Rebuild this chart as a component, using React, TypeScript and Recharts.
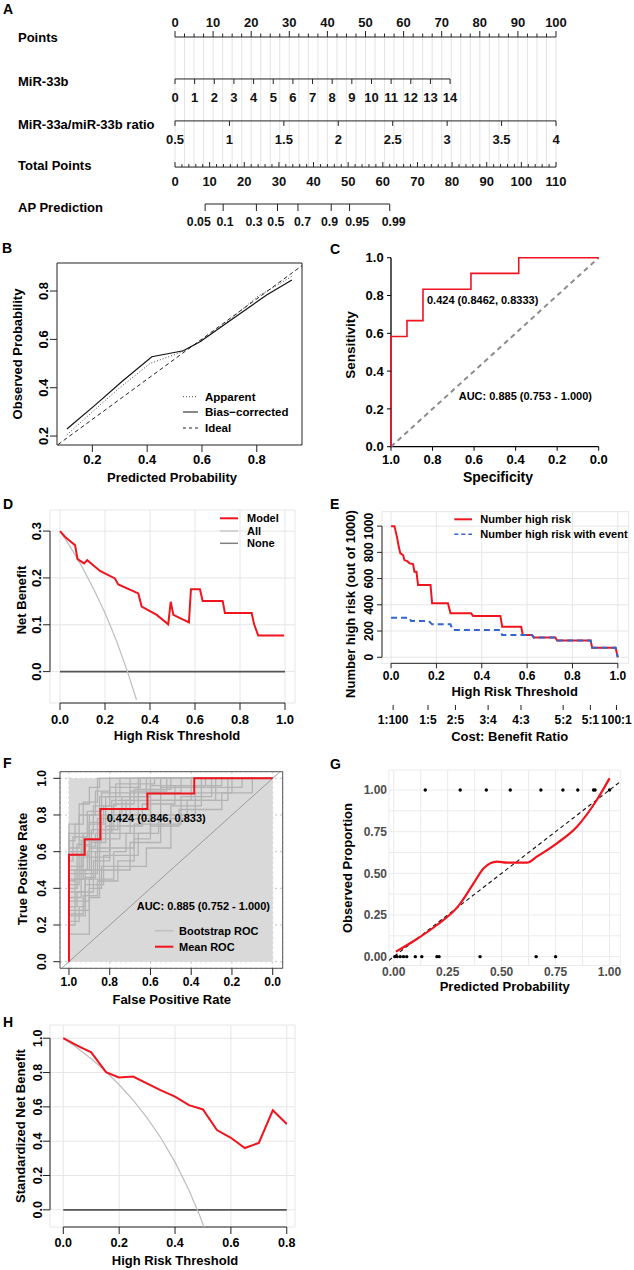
import React from 'react';
import {
  CartesianGrid,
  ComposedChart,
  Line,
  ReferenceArea,
  ReferenceLine,
  Scatter,
  XAxis,
  YAxis,
} from 'recharts';

const FONT = 'Arial, "Liberation Sans", Helvetica, sans-serif';
const RED = '#f0141e';
const BLUE = '#3366cc';
const INK = '#222';

// ---------- A: nomogram ----------
const rowNames = ['Points', 'MiR-33b', 'MiR-33a/miR-33b ratio', 'Total Points', 'AP Prediction'];
const pointsLabels = [0, 10, 20, 30, 40, 50, 60, 70, 80, 90, 100];
const mir33bValues = [0, 1, 2, 3, 4, 5, 6, 7, 8, 9, 10, 11, 12, 13, 14];
const mir33bPointsAt14 = 72.2;
const ratioValues = [0.5, 1, 1.5, 2, 2.5, 3, 3.5, 4];
const totalLabels = [0, 10, 20, 30, 40, 50, 60, 70, 80, 90, 100, 110];
const totalMax = 110;
const apLabels = ['0.05', '0.1', '0.3', '0.5', '0.7', '0.9', '0.95', '0.99'];
const apTotalPoints = [8.7, 13.9, 23.5, 29.6, 35.5, 45.1, 50.4, 62.0];
const apLabelShift = [-6.3, 1.8, -2.4, -1.6, 4.5, -1.7, 7.6, 3.9];

// ---------- B: calibration ----------
const calApparentX = [0.107, 0.2, 0.3, 0.41, 0.52, 0.6, 0.7, 0.8, 0.93];
const calApparentY = [0.205, 0.3, 0.4, 0.5, 0.545, 0.595, 0.68, 0.775, 0.862];
const calBiasX = [0.107, 0.21, 0.307, 0.417, 0.532, 0.593, 0.715, 0.836, 0.928];
const calBiasY = [0.229, 0.328, 0.425, 0.528, 0.553, 0.59, 0.687, 0.784, 0.846];
const calIdealX = [0.075, 0.965];
const calIdealY = [0.165, 0.905];

// ---------- C / F: ROC ----------
const rocSpec = [1, 1, 0.923, 0.923, 0.846, 0.846, 0.615, 0.615, 0.385, 0.385, 0];
const rocSens = [0, 0.583, 0.583, 0.667, 0.667, 0.833, 0.833, 0.917, 0.917, 1, 1];
const bootstrapSteps = [
  [[1, 0.42], [0.95, 0.58], [0.9, 0.75], [0.82, 0.9], [0.7, 1]],
  [[1, 0.25], [0.92, 0.5], [0.85, 0.67], [0.75, 0.83], [0.6, 0.92], [0.45, 1]],
  [[1, 0.6], [0.93, 0.7], [0.88, 0.85], [0.8, 0.95], [0.65, 1]],
  [[1, 0.3], [0.96, 0.38], [0.88, 0.55], [0.8, 0.7], [0.7, 0.8], [0.55, 0.95], [0.35, 1]],
  [[1, 0.5], [0.9, 0.62], [0.86, 0.78], [0.72, 0.88], [0.66, 1]],
  [[1, 0.2], [0.97, 0.33], [0.9, 0.45], [0.78, 0.6], [0.72, 0.7], [0.6, 0.88], [0.22, 1]],
  [[1, 0.7], [0.9, 0.8], [0.85, 0.9], [0.75, 1]],
  [[1, 0.35], [0.94, 0.48], [0.86, 0.62], [0.68, 0.75], [0.45, 0.9], [0.3, 1]],
  [[1, 0.55], [0.98, 0.68], [0.91, 0.82], [0.84, 0.92], [0.55, 1]],
  [[1, 0.28], [0.9, 0.4], [0.84, 0.52], [0.62, 0.62], [0.5, 0.85], [0.35, 0.95], [0.15, 1]],
  [[1, 0.45], [0.93, 0.57], [0.8, 0.78], [0.6, 0.96], [0.4, 1]],
  [[1, 0.62], [0.95, 0.8], [0.87, 0.93], [0.8, 1]],
  [[1, 0.15], [0.9, 0.35], [0.85, 0.5], [0.7, 0.65], [0.55, 0.8], [0.38, 0.92], [0.2, 1]],
  [[1, 0.52], [0.96, 0.64], [0.89, 0.72], [0.78, 0.86], [0.68, 0.94], [0.5, 1]],
  [[1, 0.38], [0.92, 0.46], [0.87, 0.6], [0.8, 0.8], [0.74, 0.9], [0.62, 1]],
  [[1, 0.66], [0.97, 0.75], [0.93, 0.87], [0.86, 1]],
  [[1, 0.22], [0.95, 0.3], [0.92, 0.42], [0.83, 0.58], [0.66, 0.7], [0.56, 0.78], [0.42, 0.88], [0.28, 1]],
  [[1, 0.48], [0.94, 0.66], [0.9, 0.76], [0.83, 0.85], [0.77, 0.97], [0.58, 1]],
  [[1, 0.33], [0.97, 0.45], [0.89, 0.65], [0.82, 0.74], [0.64, 0.86], [0.48, 0.96], [0.33, 1]],
  [[1, 0.58], [0.92, 0.66], [0.84, 0.8], [0.7, 0.9], [0.6, 1]],
  [[1, 0.4], [0.96, 0.52], [0.93, 0.63], [0.87, 0.7], [0.79, 0.88], [0.7, 0.93], [0.52, 1]],
  [[1, 0.26], [0.93, 0.36], [0.86, 0.44], [0.76, 0.55], [0.68, 0.67], [0.6, 0.74], [0.46, 0.83], [0.25, 0.92], [0.1, 1]],
  [[1, 0.75], [0.95, 0.86], [0.9, 0.95], [0.85, 1]],
  [[1, 0.44], [0.97, 0.5], [0.91, 0.6], [0.85, 0.72], [0.76, 0.8], [0.66, 0.88], [0.4, 0.96], [0.25, 1]],
];

// ---------- D: decision curve ----------
const dcaThreshold = [0, 0.022, 0.044, 0.067, 0.078, 0.107, 0.121, 0.178, 0.244, 0.259, 0.348, 0.363, 0.43, 0.481, 0.492, 0.504, 0.573, 0.582, 0.622, 0.634, 0.723, 0.733, 0.852, 0.862, 0.881, 0.996];
const dcaModel = [0.3, 0.288, 0.279, 0.27, 0.24, 0.231, 0.238, 0.215, 0.199, 0.186, 0.167, 0.139, 0.121, 0.101, 0.149, 0.121, 0.105, 0.176, 0.176, 0.151, 0.151, 0.125, 0.125, 0.102, 0.077, 0.077];
const dcaAllX = [0, 0.05, 0.1, 0.15, 0.2, 0.25, 0.3, 0.34];
const dcaAllY = [0.3, 0.263, 0.222, 0.176, 0.125, 0.067, 0, -0.06];
const dcaNoneX = [0, 1];
const dcaNoneY = [0, 0];

// ---------- E: clinical impact ----------
const impactRiskX = [0, 0.015, 0.026, 0.034, 0.041, 0.053, 0.059, 0.071, 0.082, 0.097, 0.103, 0.112, 0.119, 0.174, 0.181, 0.251, 0.262, 0.353, 0.362, 0.482, 0.49, 0.574, 0.581, 0.622, 0.629, 0.725, 0.732, 0.88, 0.887, 0.99, 1.0];
const impactRiskY = [1000, 1000, 918, 842, 792, 779, 741, 733, 716, 711, 652, 652, 551, 551, 411, 411, 335, 335, 315, 315, 233, 233, 170, 170, 150, 150, 127, 127, 73, 73, 0];
const impactEventX = [0, 0.08, 0.088, 0.166, 0.181, 0.262, 0.272, 0.482, 0.49, 0.622, 0.629, 0.725, 0.732, 0.88, 0.887, 0.99, 1.0];
const impactEventY = [302, 302, 276, 276, 251, 251, 208, 208, 170, 170, 150, 150, 127, 127, 73, 73, 0];
const cbThresholds = [0.009, 0.163, 0.284, 0.428, 0.573, 0.759, 0.879, 0.994];
const cbLabels = ['1:100', '1:5', '2:5', '3:4', '4:3', '5:2', '5:1', '100:1'];

// ---------- G: calibration (loess) ----------
const loessX = [0.01, 0.1, 0.2, 0.3, 0.37, 0.417, 0.478, 0.525, 0.617, 0.663, 0.756, 0.849, 0.941, 1.0];
const loessY = [0.03, 0.1, 0.19, 0.305, 0.44, 0.53, 0.57, 0.564, 0.564, 0.6, 0.68, 0.78, 0.94, 1.07];
const eventX = [0.146, 0.308, 0.429, 0.54, 0.682, 0.784, 0.853, 0.926, 0.933, 1.0];
const nonEventX = [0.005, 0.015, 0.03, 0.045, 0.06, 0.1, 0.13, 0.2, 0.21, 0.4, 0.66, 0.75];

// ---------- H: standardized net benefit ----------
const snbX = [0, 0.05, 0.1, 0.153, 0.199, 0.25, 0.346, 0.4, 0.45, 0.5, 0.55, 0.6, 0.65, 0.7, 0.75, 0.8];
const snbModel = [1.0, 0.957, 0.918, 0.802, 0.771, 0.777, 0.699, 0.66, 0.61, 0.585, 0.465, 0.42, 0.36, 0.39, 0.58, 0.5];
const snbAllX = [0, 0.05, 0.1, 0.15, 0.2, 0.25, 0.3, 0.35, 0.4, 0.45, 0.49, 0.51];
const snbAllY = [1.0, 0.943, 0.88, 0.809, 0.729, 0.639, 0.536, 0.417, 0.278, 0.114, -0.04, -0.13];
const snbNoneX = [0, 0.8];
const snbNoneY = [0, 0];

// ---------- helpers ----------
const zip = (xs: number[], ys: number[]) => xs.map((x, i) => ({ x, y: ys[i] }));
const steps = (a: number, b: number, s: number) =>
  Array.from({ length: Math.round((b - a) / s) + 1 }, (_, i) => a + i * s);
const f1 = (v: number) => v.toFixed(1);
const f2 = (v: number) => v.toFixed(2);

const stepPath = (c: number[][]) => {
  const pts = [{ x: 1, y: 0 }];
  let prev = 0;
  c.forEach(([s, t]) => {
    pts.push({ x: s, y: prev });
    pts.push({ x: s, y: t });
    prev = t;
  });
  pts.push({ x: 0, y: prev });
  return pts;
};

const rotTick = (size: number, fmt: (v: number) => string) => (p: any) => (
  <text
    x={p.x}
    y={p.y}
    transform={`rotate(-90 ${p.x} ${p.y})`}
    textAnchor="middle"
    fontSize={size}
    fontWeight={700}
    fill="#000"
  >
    {fmt(p.payload.value)}
  </text>
);

const tickStyle = (size: number, fill = '#000') => ({ fontSize: size, fontWeight: 700, fill });

function Box({ left, top, children }: { left: number; top: number; children: React.ReactNode }) {
  return <div style={{ position: 'absolute', left, top }}>{children}</div>;
}

// ---------- A ----------
const ROW_Y = [0, 1, 2, 3.1, 3.98];

const pointsTicks = steps(0, 100, 2.5).map((v) => ({
  x: v, y: ROW_Y[0], len: v % 10 === 0 ? 6 : 3.5, dir: -1,
  label: pointsLabels.includes(v) ? String(v) : '', dy: -14.5, dx: 0, size: 13,
}));
const mirTicks = mir33bValues.map((v) => ({
  x: (v / 14) * mir33bPointsAt14, y: ROW_Y[1], len: 5, dir: 1, label: String(v), dy: 18.8, dx: 0, size: 13,
}));
const ratioTicks = ratioValues.map((v) => ({
  x: ((v - 0.5) / 3.5) * 100, y: ROW_Y[2], len: 5, dir: 1, label: String(v), dy: 18.5, dx: 0, size: 13,
}));
const totalTicks = steps(0, totalMax, 2).map((v) => ({
  x: (v / totalMax) * 100, y: ROW_Y[3], len: v % 10 === 0 ? 5 : 3, dir: -1,
  label: totalLabels.includes(v) ? String(v) : '', dy: 14, dx: 0, size: 13,
}));
const apTicks = apLabels.map((l, i) => ({
  x: (apTotalPoints[i] / totalMax) * 100, y: ROW_Y[4], len: 7, dir: 1, label: l, dy: 18.2,
  dx: apLabelShift[i], size: 12.3,
}));
const rowSpans = [
  [0, 100],
  [0, mir33bPointsAt14],
  [0, 100],
  [0, 100],
  [apTicks[0].x, apTicks[apTicks.length - 1].x],
];

const NomoTick = (p: any) => {
  const { cx, cy, payload } = p;
  return (
    <g>
      <line x1={cx} y1={cy} x2={cx} y2={cy + payload.dir * payload.len} stroke={INK} strokeWidth={1} />
      {payload.label && (
        <text
          x={cx + payload.dx}
          y={cy + payload.dy}
          textAnchor="middle"
          dominantBaseline="central"
          fontSize={payload.size}
          fontWeight={700}
          fill="#111"
        >
          {payload.label}
        </text>
      )}
    </g>
  );
};

function Nomogram() {
  return (
    <ComposedChart width={634} height={235} margin={{ top: 37, right: 78, bottom: 31, left: 175 }}>
      <XAxis hide type="number" dataKey="x" domain={[0, 100]} />
      <YAxis hide type="number" dataKey="y" domain={[0, 3.98]} reversed />
      {steps(0, 100, 2.5).map((v) => (
        <ReferenceLine
          key={`g${v}`}
          segment={[{ x: v, y: ROW_Y[0] }, { x: v, y: ROW_Y[3] }]}
          stroke="#dcdcdc"
          strokeWidth={0.8}
          ifOverflow="visible"
        />
      ))}
      {rowSpans.map((s, i) => (
        <ReferenceLine
          key={`r${i}`}
          segment={[{ x: s[0], y: ROW_Y[i] }, { x: s[1], y: ROW_Y[i] }]}
          stroke={INK}
          strokeWidth={1}
          ifOverflow="visible"
        />
      ))}
      <Scatter data={pointsTicks} shape={NomoTick} isAnimationActive={false} />
      <Scatter data={mirTicks} shape={NomoTick} isAnimationActive={false} />
      <Scatter data={ratioTicks} shape={NomoTick} isAnimationActive={false} />
      <Scatter data={totalTicks} shape={NomoTick} isAnimationActive={false} />
      <Scatter data={apTicks} shape={NomoTick} isAnimationActive={false} />
    </ComposedChart>
  );
}

// ---------- B ----------
function CalibrationB() {
  return (
    <ComposedChart width={317} height={250} margin={{ top: 23, right: 15, bottom: 0, left: 0 }}>
      <XAxis
        type="number" dataKey="x" domain={[0.071, 0.965]} allowDataOverflow
        ticks={[0.2, 0.4, 0.6, 0.8]} interval={0} tickFormatter={f1}
        height={45} axisLine={false} tickSize={7} tickMargin={3}
        tickLine={{ stroke: INK }} tick={tickStyle(13)}
      />
      <YAxis
        type="number" dataKey="y" domain={[0.163, 0.916]} allowDataOverflow
        ticks={[0.2, 0.4, 0.6, 0.8]} interval={0}
        width={57} axisLine={false} tickSize={7} tickMargin={2}
        tickLine={{ stroke: INK }} tick={rotTick(13, f1)}
      />
      <Line data={zip(calIdealX, calIdealY)} dataKey="y" stroke={INK} strokeWidth={1} strokeDasharray="4 3" dot={false} isAnimationActive={false} />
      <Line data={zip(calApparentX, calApparentY)} dataKey="y" stroke="#444" strokeWidth={1} strokeDasharray="1 2" dot={false} isAnimationActive={false} />
      <Line data={zip(calBiasX, calBiasY)} dataKey="y" stroke="#111" strokeWidth={1.2} dot={false} isAnimationActive={false} />
      <ReferenceArea x1={0.071} x2={0.965} y1={0.163} y2={0.916} fill="none" stroke={INK} strokeWidth={1} ifOverflow="visible" />
    </ComposedChart>
  );
}

// ---------- C ----------
function RocC() {
  return (
    <ComposedChart width={317} height={250} margin={{ top: 17.7, right: 35.3, bottom: 0, left: 0 }}>
      <XAxis
        type="number" dataKey="x" domain={[0, 1]} reversed
        ticks={[0, 0.2, 0.4, 0.6, 0.8, 1]} interval={0} tickFormatter={f1}
        height={43.3} axisLine={false} tickSize={4} tickMargin={3.6}
        tickLine={{ stroke: '#000' }} tick={tickStyle(13)}
      />
      <YAxis
        type="number" dataKey="y" domain={[0, 1]}
        ticks={[0, 0.2, 0.4, 0.6, 0.8, 1]} interval={0} tickFormatter={f1}
        width={74} axisLine={false} tickSize={4} tickMargin={3.3}
        tickLine={{ stroke: '#000' }} tick={tickStyle(13)}
      />
      {/* axis lines drawn first so the ROC curve sits on top of them */}
      <Line data={zip([1, 1, 0], [1, 0, 0])} dataKey="y" stroke="#000" strokeWidth={1.3} dot={false} isAnimationActive={false} />
      <Line data={zip([1, 0], [0, 1])} dataKey="y" stroke="#8c8c8c" strokeWidth={2} strokeDasharray="5 4" dot={false} isAnimationActive={false} />
      <Line data={zip(rocSpec, rocSens)} dataKey="y" stroke={RED} strokeWidth={1.6} dot={false} isAnimationActive={false} />
    </ComposedChart>
  );
}

// ---------- D ----------
function DecisionD() {
  return (
    <ComposedChart width={317} height={250} margin={{ top: 15, right: 22, bottom: 0, left: 0 }}>
      <CartesianGrid stroke="#e6e6e6" strokeWidth={1} />
      <XAxis
        type="number" dataKey="x" domain={[-0.0444, 1.0444]} allowDataOverflow
        ticks={[0, 0.2, 0.4, 0.6, 0.8, 1]} interval={0} tickFormatter={f1}
        height={42} axisLine={false} tickSize={7} tickMargin={4.3}
        tickLine={{ stroke: INK }} tick={tickStyle(13)}
      />
      <YAxis
        type="number" dataKey="y" domain={[-0.067, 0.345]} allowDataOverflow
        ticks={[0, 0.1, 0.2, 0.3]} interval={0}
        width={50} axisLine={false} tickSize={7} tickMargin={2}
        tickLine={{ stroke: INK }} tick={rotTick(13, f1)}
      />
      <ReferenceLine segment={[{ x: 0, y: -0.067 }, { x: 1, y: -0.067 }]} stroke={INK} ifOverflow="visible" />
      <ReferenceLine segment={[{ x: -0.0444, y: 0 }, { x: -0.0444, y: 0.3 }]} stroke={INK} ifOverflow="visible" />
      <Line data={zip(dcaNoneX, dcaNoneY)} dataKey="y" stroke="#555" strokeWidth={1.6} dot={false} isAnimationActive={false} />
      <Line data={zip(dcaAllX, dcaAllY)} dataKey="y" stroke="#bdbdbd" strokeWidth={1.2} dot={false} isAnimationActive={false} />
      <Line data={zip(dcaThreshold, dcaModel)} dataKey="y" stroke={RED} strokeWidth={2} dot={false} isAnimationActive={false} />
    </ComposedChart>
  );
}

// ---------- E ----------
const E_DOMAIN: [number, number] = [-0.04, 1.048];

function ImpactE() {
  return (
    <ComposedChart width={317} height={250} margin={{ top: 16.7, right: 5.3, bottom: 40, left: 0 }}>
      <CartesianGrid stroke="#e6e6e6" strokeWidth={1} />
      <XAxis
        type="number" dataKey="x" domain={E_DOMAIN} allowDataOverflow
        ticks={[0, 0.2, 0.4, 0.6, 0.8, 1]} interval={0} tickFormatter={f1}
        height={41.7} axisLine={false} tickSize={5} tickMargin={3.4}
        tickLine={{ stroke: INK }} tick={tickStyle(12)}
      />
      <YAxis
        type="number" dataKey="y" domain={[-46, 1110]} allowDataOverflow
        ticks={[0, 200, 400, 600, 800, 1000]} interval={0}
        width={65} axisLine={false} tickSize={5} tickMargin={4}
        tickLine={{ stroke: INK }} tick={rotTick(12, (v) => String(v))}
      />
      <ReferenceLine segment={[{ x: 0, y: -46 }, { x: 1, y: -46 }]} stroke={INK} ifOverflow="visible" />
      <ReferenceLine segment={[{ x: -0.04, y: 0 }, { x: -0.04, y: 1000 }]} stroke={INK} ifOverflow="visible" />
      <Line data={zip(impactRiskX, impactRiskY)} dataKey="y" stroke={RED} strokeWidth={2} dot={false} isAnimationActive={false} />
      <Line data={zip(impactEventX, impactEventY)} dataKey="y" stroke={BLUE} strokeWidth={2} strokeDasharray="6 4" dot={false} isAnimationActive={false} />
    </ComposedChart>
  );
}

// second axis of E (cost : benefit ratio), same threshold scale
function CostBenefitAxis() {
  return (
    <ComposedChart width={317} height={45} margin={{ top: 4, right: 5.3, bottom: 0, left: 65 }}>
      <XAxis
        type="number" dataKey="x" domain={E_DOMAIN} allowDataOverflow
        ticks={cbThresholds} interval={0}
        tickFormatter={(v: number) => cbLabels[cbThresholds.indexOf(v)] ?? ''}
        height={40} axisLine={false} tickSize={5} tickMargin={5}
        tickLine={{ stroke: INK }} tick={tickStyle(12)}
      />
      <YAxis hide type="number" dataKey="y" domain={[0, 1]} />
      <ReferenceLine
        segment={[{ x: cbThresholds[0], y: 0 }, { x: cbThresholds[cbThresholds.length - 1], y: 0 }]}
        stroke={INK}
        ifOverflow="visible"
      />
    </ComposedChart>
  );
}

// ---------- F ----------
function BootRocF() {
  return (
    <ComposedChart width={317} height={260} margin={{ top: 21.7, right: 34.3, bottom: 0, left: 0 }}>
      <CartesianGrid stroke="#c4c4c4" strokeDasharray="2 3" />
      <XAxis
        type="number" dataKey="x" domain={[-0.049, 1.044]} reversed allowDataOverflow
        ticks={[0, 0.2, 0.4, 0.6, 0.8, 1]} interval={0} tickFormatter={f1}
        height={41.7} axisLine={false} tickSize={6.7} tickMargin={2.4}
        tickLine={{ stroke: INK }} tick={tickStyle(12)}
      />
      <YAxis
        type="number" dataKey="y" domain={[-0.036, 1.036]} allowDataOverflow
        ticks={[0, 0.2, 0.4, 0.6, 0.8, 1]} interval={0}
        width={60} axisLine={false} tickSize={6.7} tickMargin={7.3}
        tickLine={{ stroke: INK }} tick={rotTick(12, f1)}
      />
      <ReferenceArea x1={0} x2={1} y1={0} y2={1} fill="#d9d9d9" fillOpacity={1} stroke="none" />
      {bootstrapSteps.map((c, i) => (
        <Line key={i} data={stepPath(c)} dataKey="y" stroke="#b3b3b3" strokeWidth={1.3} dot={false} isAnimationActive={false} />
      ))}
      <Line data={zip([1.08, -0.08], [-0.08, 1.08])} dataKey="y" stroke="#9a9a9a" strokeWidth={1} dot={false} isAnimationActive={false} />
      <Line data={zip(rocSpec, rocSens)} dataKey="y" stroke={RED} strokeWidth={2} dot={false} isAnimationActive={false} />
      <ReferenceArea x1={-0.049} x2={1.044} y1={-0.036} y2={1.036} fill="none" stroke="#555" strokeWidth={1} ifOverflow="visible" />
    </ComposedChart>
  );
}

// ---------- G ----------
const gTicks = [0, 0.125, 0.25, 0.375, 0.5, 0.625, 0.75, 0.875, 1];
const gMajor = (v: number) => ([0, 0.25, 0.5, 0.75, 1].includes(v) ? f2(v) : '');

const Dot = (p: any) => <circle cx={p.cx} cy={p.cy} r={1.7} fill="#000" />;

function CalibrationG() {
  return (
    <ComposedChart width={317} height={245} margin={{ top: 18, right: 13.7, bottom: 0, left: 0 }}>
      <CartesianGrid stroke="#ebebeb" strokeWidth={1} />
      <XAxis
        type="number" dataKey="x" domain={[-0.022, 1.05]} allowDataOverflow
        ticks={gTicks} interval={0} tickFormatter={gMajor}
        height={31.5} axisLine={false} tickLine={false} tickSize={0} tickMargin={2.2}
        tick={tickStyle(12, '#4d4d4d')}
      />
      <YAxis
        type="number" dataKey="y" domain={[-0.053, 1.12]} allowDataOverflow
        ticks={gTicks} interval={0} tickFormatter={gMajor}
        width={72} axisLine={false} tickLine={false} tickSize={0} tickMargin={2}
        tick={tickStyle(12, '#4d4d4d')}
      />
      <Line data={zip([-0.1, 1.1], [-0.1, 1.1])} dataKey="y" stroke="#111" strokeWidth={1.1} strokeDasharray="4 3" dot={false} isAnimationActive={false} />
      <Line data={zip(loessX, loessY)} dataKey="y" type="monotone" stroke={RED} strokeWidth={2.2} dot={false} isAnimationActive={false} />
      <Scatter data={eventX.map((x) => ({ x, y: 1 }))} shape={Dot} isAnimationActive={false} />
      <Scatter data={nonEventX.map((x) => ({ x, y: 0 }))} shape={Dot} isAnimationActive={false} />
    </ComposedChart>
  );
}

// ---------- H ----------
function StdNetBenefitH() {
  return (
    <ComposedChart width={317} height={260} margin={{ top: 15, right: 22, bottom: 0, left: 0 }}>
      <CartesianGrid stroke="#e6e6e6" strokeWidth={1} />
      <XAxis
        type="number" dataKey="x" domain={[-0.0476, 0.8295]} allowDataOverflow
        ticks={[0, 0.2, 0.4, 0.6, 0.8]} interval={0} tickFormatter={f1}
        height={43} axisLine={false} tickSize={7} tickMargin={4.4}
        tickLine={{ stroke: INK }} tick={tickStyle(12.5)}
      />
      <YAxis
        type="number" dataKey="y" domain={[-0.1, 1.077]} allowDataOverflow
        ticks={[0, 0.2, 0.4, 0.6, 0.8, 1]} interval={0}
        width={50} axisLine={false} tickSize={7} tickMargin={1}
        tickLine={{ stroke: INK }} tick={rotTick(12.5, f1)}
      />
      <ReferenceLine segment={[{ x: 0, y: -0.1 }, { x: 0.8, y: -0.1 }]} stroke={INK} ifOverflow="visible" />
      <ReferenceLine segment={[{ x: -0.0476, y: 0 }, { x: -0.0476, y: 1 }]} stroke={INK} ifOverflow="visible" />
      <Line data={zip(snbNoneX, snbNoneY)} dataKey="y" stroke="#555" strokeWidth={1.6} dot={false} isAnimationActive={false} />
      <Line data={zip(snbAllX, snbAllY)} dataKey="y" stroke="#bdbdbd" strokeWidth={1.2} dot={false} isAnimationActive={false} />
      <Line data={zip(snbX, snbModel)} dataKey="y" stroke={RED} strokeWidth={2} dot={false} isAnimationActive={false} />
    </ComposedChart>
  );
}

// ---------- text overlay ----------
const Txt = ({ x, y, size = 13, anchor = 'start', children }: any) => (
  <text x={x} y={y} fontSize={size} textAnchor={anchor} dominantBaseline="central" fontWeight={700} fill="#000">
    {children}
  </text>
);
const VTxt = ({ x, y, size = 13, children }: any) => (
  <text x={x} y={y} transform={`rotate(-90 ${x} ${y})`} fontSize={size} textAnchor="middle" dominantBaseline="central" fontWeight={700} fill="#000">
    {children}
  </text>
);

const rowLabelY = [37.8, 81, 124.3, 165.5, 207.5];

function Overlay() {
  return (
    <svg width={634} height={1270} style={{ position: 'absolute', left: 0, top: 0, pointerEvents: 'none' }} fontFamily={FONT}>
      {/* panel letters */}
      <Txt x={3} y={8.7} size={14}>A</Txt>
      <Txt x={2} y={247.5} size={14}>B</Txt>
      <Txt x={330} y={248.5} size={14}>C</Txt>
      <Txt x={3} y={503.5} size={14}>D</Txt>
      <Txt x={330} y={504} size={14}>E</Txt>
      <Txt x={3} y={762.5} size={14}>F</Txt>
      <Txt x={330} y={764} size={14}>G</Txt>
      <Txt x={3} y={1021.5} size={14}>H</Txt>

      {/* A row names */}
      {rowNames.map((n, i) => (
        <Txt key={n} x={18} y={rowLabelY[i]}>{n}</Txt>
      ))}

      {/* B */}
      <VTxt x={17} y={354}>Observed Probability</VTxt>
      <Txt x={172} y={477} anchor="middle">Predicted Probability</Txt>
      <line x1={183} x2={198} y1={396.7} y2={396.7} stroke="#444" strokeDasharray="1 2" />
      <line x1={183} x2={198} y1={412} y2={412} stroke="#111" />
      <line x1={183} x2={198} y1={428} y2={428} stroke={INK} strokeDasharray="3 3" />
      <Txt x={205} y={396.7} size={11.5}>Apparent</Txt>
      <Txt x={205} y={412} size={11.5}>Bias−corrected</Txt>
      <Txt x={205} y={428} size={11.5}>Ideal</Txt>

      {/* C */}
      <VTxt x={350} y={345} size={13.5}>Sensitivity</VTxt>
      <Txt x={498} y={476.7} size={14} anchor="middle">Specificity</Txt>
      <Txt x={427} y={300} size={11}>0.424 (0.8462, 0.8333)</Txt>
      <Txt x={458.7} y={396} size={11}>AUC: 0.885 (0.753 - 1.000)</Txt>

      {/* D */}
      <VTxt x={21.7} y={600}>Net Benefit</VTxt>
      <Txt x={177} y={735.7} anchor="middle">High Risk Threshold</Txt>
      <line x1={220} x2={238} y1={518.3} y2={518.3} stroke={RED} strokeWidth={2} />
      <line x1={220} x2={238} y1={531} y2={531} stroke="#c8c8c8" strokeWidth={1.5} />
      <line x1={220} x2={238} y1={543.3} y2={543.3} stroke="#808080" strokeWidth={1.5} />
      <Txt x={247} y={518.3} size={11}>Model</Txt>
      <Txt x={247} y={531} size={11}>All</Txt>
      <Txt x={247} y={543.3} size={11}>None</Txt>

      {/* E */}
      <VTxt x={350} y={604}>Number high risk (out of 1000)</VTxt>
      <Txt x={514.7} y={691} anchor="middle">High Risk Threshold</Txt>
      <Txt x={509.7} y={736.7} anchor="middle">Cost: Benefit Ratio</Txt>
      <line x1={454.3} x2={472} y1={519.3} y2={519.3} stroke={RED} strokeWidth={2} />
      <line x1={454.3} x2={472} y1={534.3} y2={534.3} stroke={BLUE} strokeWidth={1.5} strokeDasharray="4 3" />
      <Txt x={480.3} y={519.3} size={11}>Number high risk</Txt>
      <Txt x={480.3} y={534.3} size={11}>Number high risk with event</Txt>

      {/* F */}
      <VTxt x={22} y={869}>True Positive Rate</VTxt>
      <Txt x={171.7} y={999} anchor="middle">False Positive Rate</Txt>
      <Txt x={106.7} y={818.3} size={11}>0.424 (0.846, 0.833)</Txt>
      <Txt x={136.7} y={906} size={11}>AUC: 0.885 (0.752 - 1.000)</Txt>
      <line x1={155} x2={173.3} y1={930.7} y2={930.7} stroke="#c0c0c0" strokeWidth={1.5} />
      <line x1={155} x2={173.3} y1={946.7} y2={946.7} stroke={RED} strokeWidth={2} />
      <Txt x={179} y={930.7} size={11}>Bootstrap ROC</Txt>
      <Txt x={179} y={946.7} size={11}>Mean ROC</Txt>

      {/* G */}
      <VTxt x={347} y={868}>Observed Proportion</VTxt>
      <Txt x={504.7} y={986} anchor="middle">Predicted Probability</Txt>

      {/* H */}
      <VTxt x={20} y={1126}>Standardized Net Benefit</VTxt>
      <Txt x={175} y={1260} anchor="middle">High Risk Threshold</Txt>
    </svg>
  );
}

export default function App() {
  return (
    <div
      style={{
        position: 'absolute', left: 0, top: 0, width: 634, height: 1270,
        background: '#fff', overflow: 'hidden', fontFamily: FONT,
      }}
    >
      <Box left={0} top={0}><Nomogram /></Box>
      <Box left={0} top={240}><CalibrationB /></Box>
      <Box left={317} top={240}><RocC /></Box>
      <Box left={0} top={495}><DecisionD /></Box>
      <Box left={317} top={495}><ImpactE /></Box>
      <Box left={317} top={700}><CostBenefitAxis /></Box>
      <Box left={0} top={750}><BootRocF /></Box>
      <Box left={317} top={752}><CalibrationG /></Box>
      <Box left={0} top={1010}><StdNetBenefitH /></Box>
      <Overlay />
    </div>
  );
}
